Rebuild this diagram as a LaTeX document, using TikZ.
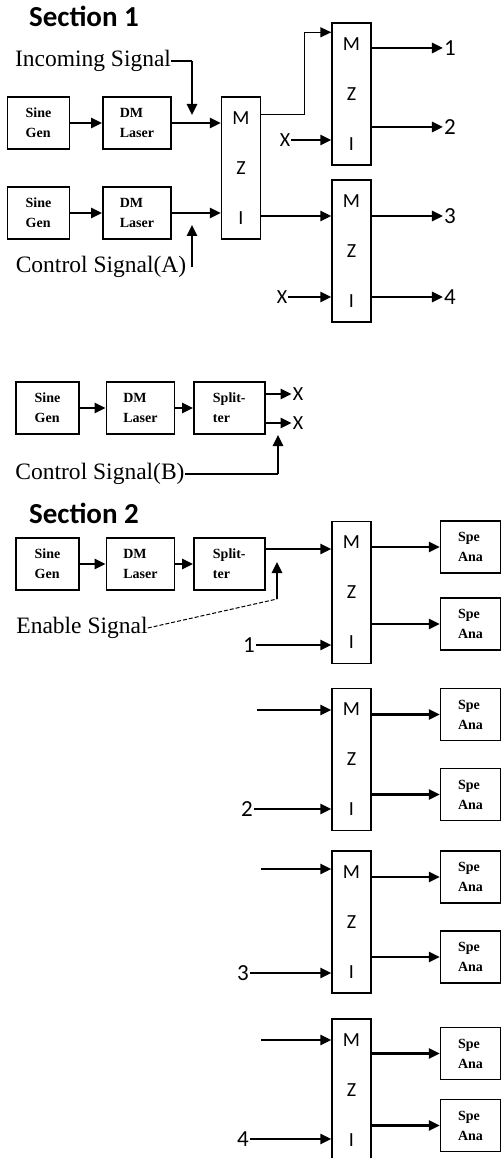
\documentclass[tikz,border=0pt]{standalone}
\usepackage{fontspec}
\setmainfont{Liberation Serif}
\newfontfamily\calib{Carlito}
\usepackage{tikz}
\usetikzlibrary{
  arrows.meta,
  positioning,
  calc
}
\tikzset{
  %%── 模块框（Sine Gen / DM Laser / Splitter / Spe Ana）──────────
  blk/.style = {
    rectangle, draw, line width = 1.4pt,
    minimum height = 52pt, inner sep = 0pt,
    align = left, font = \bfseries\fontsize{14}{20}\selectfont
  },
  sgen/.style = {blk, minimum width = 62pt},
  dml/.style  = {blk, minimum width = 68pt},
  splt/.style = {blk, minimum width = 71pt},
  spa/.style  = {blk, minimum width = 60pt},
  %%── MZI 长条框 ─────────────────────────────────────────────
  mzi/.style = {
    rectangle, draw, line width = 1.4pt,
    minimum width = 39pt, minimum height = 142pt, inner sep = 0pt,
    align = center, font = \calib\fontsize{20}{50}\selectfont
  },
  %%── 文字 ───────────────────────────────────────────────────
  sect/.style = {inner sep = 0pt, font = \calib\bfseries\fontsize{29}{32}\selectfont},
  sig/.style  = {inner sep = 0pt, font = \fontsize{23.5}{28}\selectfont},
  lbl/.style  = {inner sep = 1pt, font = \calib\fontsize{23}{25}\selectfont},
  xlbl/.style = {inner sep = 1pt, font = \calib\fontsize{20}{22}\selectfont},
  %%── 连线 ───────────────────────────────────────────────────
  arr/.style   = {->, >={Triangle[length=11pt, width=10pt]}, line width = 2.5pt},
  tarr/.style  = {->, >={Triangle[length=11pt, width=10pt]}, line width = 1.4pt},
  tline/.style = {line width = 1.4pt},
  dline/.style = {line width = 1pt, dash pattern = on 4pt off 2pt},
}
\begin{document}
\begin{tikzpicture}[x = 1pt, y = -1pt]

  \useasboundingbox (0,0) rectangle (502,1158);

  %% ── Section 1 ───────────────────────────────────────────
  \node[sect] (s1)  at (84,16)  {Section 1};
  \node[sig]  (inc) at (93,61)  {Incoming Signal};

  \node[sgen] (sg1) at (38.5,123) {Sine\\Gen};
  \node[dml, right=32pt of sg1] (dl1) {DM\\Laser};
  \node[sgen] (sg2) at (38.5,213) {Sine\\Gen};
  \node[dml, right=32pt of sg2] (dl2) {DM\\Laser};
  \node[sig]  (ctlA) at (101,267) {Control Signal(A)};

  \node[mzi] (mz1) at (241,168)   {M\\Z\\I};
  \node[mzi] (mz2) at (351.5,94)  {M\\Z\\I};
  \node[mzi] (mz3) at (351.5,251) {M\\Z\\I};

  \node[lbl]  (o1) at (450,48)  {1};
  \node[lbl]  (o2) at (450,127) {2};
  \node[lbl]  (o3) at (450,216) {3};
  \node[lbl]  (o4) at (450,297) {4};
  \node[xlbl] (x1) at (285,140) {X};
  \node[xlbl] (x2) at (282,297) {X};

  \coordinate (incT)  at (192,115);
  \coordinate (ctlAT) at (192,225);

  \draw[arr] (sg1) -- (dl1);
  \draw[arr] (dl1) -- (dl1 -| mz1.west);
  \draw[arr] (sg2) -- (dl2);
  \draw[arr] (dl2) -- (dl2 -| mz1.west);

  \draw[tline] (inc.east) -- (inc.east -| incT);
  \draw[arr] (inc.east -| incT) -- (incT);
  \draw[arr] (ctlA.east -| ctlAT) -- (ctlAT);

  \draw[tarr] ([yshift=-18pt]mz1.north east) -- ++(43,0) |- ([yshift=-10pt]mz2.north west);
  \draw[arr] (o3 -| mz1.east) -- (o3 -| mz3.west);
  \draw[arr] (x1) -- (x1 -| mz2.west);
  \draw[arr] (x2) -- (x2 -| mz3.west);

  \draw[arr] (o1 -| mz2.east) -- (o1);
  \draw[arr] (o2 -| mz2.east) -- (o2);
  \draw[arr] (o3 -| mz3.east) -- (o3);
  \draw[arr] (o4 -| mz3.east) -- (o4);

  %% ── 控制信号 B ───────────────────────────────────────────
  \node[sgen, minimum width=63pt] (sg3) at (47.5,408) {Sine\\Gen};
  \node[dml, right=26pt of sg3]   (dl3) {DM\\Laser};
  \node[splt, right=18pt of dl3]  (sp1) {Split-\\ter};
  \node[xlbl] (xa) at (298,394) {X};
  \node[xlbl] (xb) at (298,423) {X};
  \node[sig]  (ctlB) at (100,474) {Control Signal(B)};
  \coordinate (ctlBT) at (278,435);

  \draw[arr] (sg3) -- (dl3);
  \draw[arr] (dl3) -- (sp1);
  \draw[arr] (xa -| sp1.east) -- (xa);
  \draw[arr] (xb -| sp1.east) -- (xb);
  \draw[tline] (ctlB.east) -- (ctlB.east -| ctlBT);
  \draw[arr] (ctlB.east -| ctlBT) -- (ctlBT);

  %% ── Section 2 ───────────────────────────────────────────
  \node[sect] (s2) at (84,513) {Section 2};

  \node[sgen, minimum width=63pt] (sg4) at (47.5,564) {Sine\\Gen};
  \node[dml, right=26pt of sg4]   (dl4) {DM\\Laser};
  \node[splt, right=18pt of dl4]  (sp2) {Split-\\ter};
  \node[sig] (ena) at (82,628) {Enable Signal};
  \coordinate (enaK) at (277,599);
  \coordinate (enaT) at (277,562);

  \node[mzi] (mz4) at (351.5,592.5) {M\\Z\\I};
  \node[mzi] (mz5) at (351.5,759.5) {M\\Z\\I};
  \node[mzi] (mz6) at (351.5,922)   {M\\Z\\I};
  \node[mzi] (mz7) at (351.5,1090)  {M\\Z\\I};

  \node[spa] (sa1) at (470.5,547)    {Spe\\Ana};
  \node[spa] (sa2) at (470.5,624)    {Spe\\Ana};
  \node[spa] (sa3) at (470.5,714.5)  {Spe\\Ana};
  \node[spa] (sa4) at (470.5,794.5)  {Spe\\Ana};
  \node[spa] (sa5) at (470.5,877)    {Spe\\Ana};
  \node[spa] (sa6) at (470.5,957)    {Spe\\Ana};
  \node[spa] (sa7) at (470.5,1053.5) {Spe\\Ana};
  \node[spa] (sa8) at (470.5,1125.5) {Spe\\Ana};

  \node[lbl] (n1) at (249,645)  {1};
  \node[lbl] (n2) at (247,809)  {2};
  \node[lbl] (n3) at (243,973)  {3};
  \node[lbl] (n4) at (243,1139) {4};
  \coordinate (f5) at (257,710);
  \coordinate (f6) at (261,869);
  \coordinate (f7) at (261,1040);

  \draw[arr] (sg4) -- (dl4);
  \draw[arr] (dl4) -- (sp2);
  \draw[arr] ([yshift=15pt]sp2.east) -- ([yshift=15pt]sp2.east -| mz4.west);
  \draw[dline] (ena.east) -- (enaK);
  \draw[arr] (enaK) -- (enaT);

  \draw[arr] (n1) -- (n1 -| mz4.west);
  \draw[arr] (n2) -- (n2 -| mz5.west);
  \draw[arr] (n3) -- (n3 -| mz6.west);
  \draw[arr] (n4) -- (n4 -| mz7.west);
  \draw[arr] (f5) -- (f5 -| mz5.west);
  \draw[arr] (f6) -- (f6 -| mz6.west);
  \draw[arr] (f7) -- (f7 -| mz7.west);

  \draw[arr] (sa1 -| mz4.east) -- (sa1);
  \draw[arr] (sa2 -| mz4.east) -- (sa2);
  \draw[arr] (sa3 -| mz5.east) -- (sa3);
  \draw[arr] (sa4 -| mz5.east) -- (sa4);
  \draw[arr] (sa5 -| mz6.east) -- (sa5);
  \draw[arr] (sa6 -| mz6.east) -- (sa6);
  \draw[arr] (sa7 -| mz7.east) -- (sa7);
  \draw[arr] (sa8 -| mz7.east) -- (sa8);

\end{tikzpicture}
\end{document}
